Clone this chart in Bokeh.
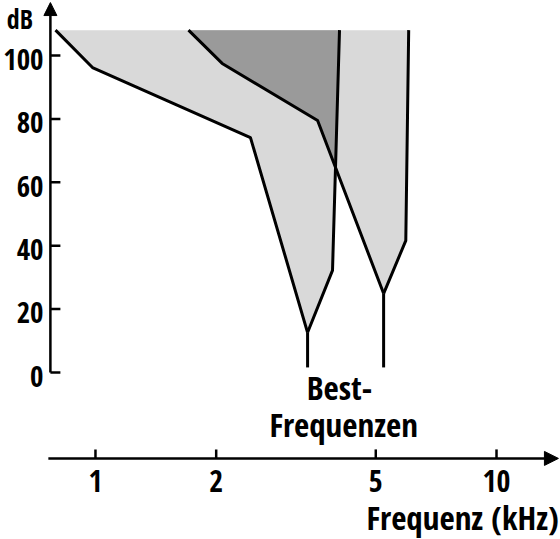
import numpy as np
from bokeh.plotting import figure
from bokeh.models import Range1d, Arrow, NormalHead
from bokeh.core.properties import value
from bokeh.embed import file_html
from bokeh.resources import INLINE

FONT = value("Open Sans Condensed")

# ---------------- data ----------------
tick_db = [0, 20, 40, 60, 80, 100]
tick_db_labels = ["0", "20", "40", "60", "80", "100"]
tick_khz = [1, 2, 5, 10]
tick_khz_labels = ["1", "2", "5", "10"]

# tuning curve A (lower best frequency)
a_left_khz = [0.795, 0.983, 2.435, 3.38]
a_left_db = [108.0, 96.2, 74.1, 12.6]
a_right_khz = [3.38, 3.90, 4.06]
a_right_db = [12.6, 32.2, 108.0]

# tuning curve C (higher best frequency)
c_left_khz = [1.706, 2.07, 3.58, 5.23]
c_left_db = [108.0, 97.5, 79.5, 24.9]
c_right_khz = [5.23, 5.94, 6.04]
c_right_db = [24.9, 41.6, 108.0]

best_khz = [3.38, 5.23]
best_db = [12.6, 24.9]
stem_floor_db = [1.6, 1.6]

# ---------------- layout constants ----------------
x_start, x_end = 0.5797, 14.44
y_start, y_end = -52.68, 117.35
y_axis_khz = 0.772        # where the dB axis stands
x_axis_db = -27.1         # where the frequency axis lies
x_axis_from_khz = 0.763
x_arrow_tip_khz = 14.27
y_arrow_tip_db = 116.7
ytick_label_khz = 0.742
ytick_label_dy = -1.2
xtick_label_db = -34.1
db_label_pos = (0.698, 111.4)
best_label_khz = [4.06, 4.157]
best_label_db = [-4.8, -16.4]
xtitle_pos = (14.30, -45.8)

LIGHT = "#d9d9d9"
DARK = "#9a9a9a"


def intersect(xa, ya, xb, yb):
    la, lb = np.log10(xa), np.log10(xb)
    for i in range(len(xa) - 1):
        for j in range(len(xb) - 1):
            p0 = np.array([la[i], ya[i]])
            r = np.array([la[i + 1] - la[i], ya[i + 1] - ya[i]])
            q = np.array([lb[j], yb[j]])
            s = np.array([lb[j + 1] - lb[j], yb[j + 1] - yb[j]])
            den = r[0] * s[1] - r[1] * s[0]
            if abs(den) < 1e-12:
                continue
            d = q - p0
            t = (d[0] * s[1] - d[1] * s[0]) / den
            u = (d[0] * r[1] - d[1] * r[0]) / den
            if 0 <= t <= 1 and 0 <= u <= 1:
                pt = p0 + t * r
                return i, j, 10 ** pt[0], pt[1]
    return None


p = figure(width=560, height=539, x_axis_type="log",
           x_range=Range1d(x_start, x_end), y_range=Range1d(y_start, y_end),
           x_axis_location=None, y_axis_location=None,
           output_backend="svg", toolbar_location=None, min_border=0)
p.outline_line_color = None
p.grid.grid_line_color = None
p.background_fill_color = "white"
p.border_fill_color = "white"

# fills
p.patch(a_left_khz + a_right_khz[1:], a_left_db + a_right_db[1:],
        fill_color=LIGHT, line_color=None)
p.patch(c_left_khz + c_right_khz[1:], c_left_db + c_right_db[1:],
        fill_color=LIGHT, line_color=None)
res = intersect(c_left_khz, c_left_db, a_right_khz, a_right_db)
if res is not None:
    i, j, fx, fy = res
    ox = c_left_khz[: i + 1] + [fx] + a_right_khz[j + 1:]
    oy = c_left_db[: i + 1] + [fy] + a_right_db[j + 1:]
    p.patch(ox, oy, fill_color=DARK, line_color=None)

# outlines
for xs, ys in [(a_left_khz, a_left_db), (a_right_khz, a_right_db),
               (c_left_khz, c_left_db), (c_right_khz, c_right_db)]:
    p.line(xs, ys, line_color="black", line_width=3, line_join="round")
p.segment(x0=best_khz, y0=best_db, x1=best_khz, y1=stem_floor_db,
          line_color="black", line_width=3)

# axes (drawn as glyphs so their texts can sit anywhere on the canvas)
p.add_layout(Arrow(end=NormalHead(size=13, fill_color="black", line_color="black"),
                   x_start=y_axis_khz, y_start=tick_db[0],
                   x_end=y_axis_khz, y_end=y_arrow_tip_db,
                   line_width=2.5, line_color="black"))
p.add_layout(Arrow(end=NormalHead(size=14, fill_color="black", line_color="black"),
                   x_start=x_axis_from_khz, y_start=x_axis_db,
                   x_end=x_arrow_tip_khz, y_end=x_axis_db,
                   line_width=2.5, line_color="black"))
p.ray(x=[y_axis_khz] * len(tick_db), y=tick_db, length=10, length_units="screen",
      angle=0, line_color="black", line_width=2.5)
p.ray(x=tick_khz, y=[x_axis_db] * len(tick_khz), length=9, length_units="screen",
      angle=np.pi / 2, line_color="black", line_width=2.5)

p.text(x=[ytick_label_khz] * len(tick_db), y=[t + ytick_label_dy for t in tick_db],
       text=tick_db_labels, text_align="right", text_baseline="middle",
       text_font=FONT, text_font_style="bold", text_font_size="29px",
       text_color="black")
p.text(x=tick_khz, y=[xtick_label_db] * len(tick_khz), text=tick_khz_labels,
       text_align="center", text_baseline="middle", text_font=FONT,
       text_font_style="bold", text_font_size="30px", text_color="black")

# texts
p.text(x=[db_label_pos[0]], y=[db_label_pos[1]], text=["dB"], text_align="right",
       text_baseline="middle", text_font=FONT, text_font_style="bold",
       text_font_size="26px", text_color="black")
p.text(x=best_label_khz, y=best_label_db, text=["Best-", "Frequenzen"],
       text_align="center", text_baseline="middle", text_font=FONT,
       text_font_style="bold", text_font_size="33px", text_color="black")
p.text(x=[xtitle_pos[0]], y=[xtitle_pos[1]], text=["Frequenz (kHz)"],
       text_align="right", text_baseline="middle", text_font=FONT,
       text_font_style="bold", text_font_size="33px", text_color="black")

open("out.html", "w").write(file_html(p, INLINE))
